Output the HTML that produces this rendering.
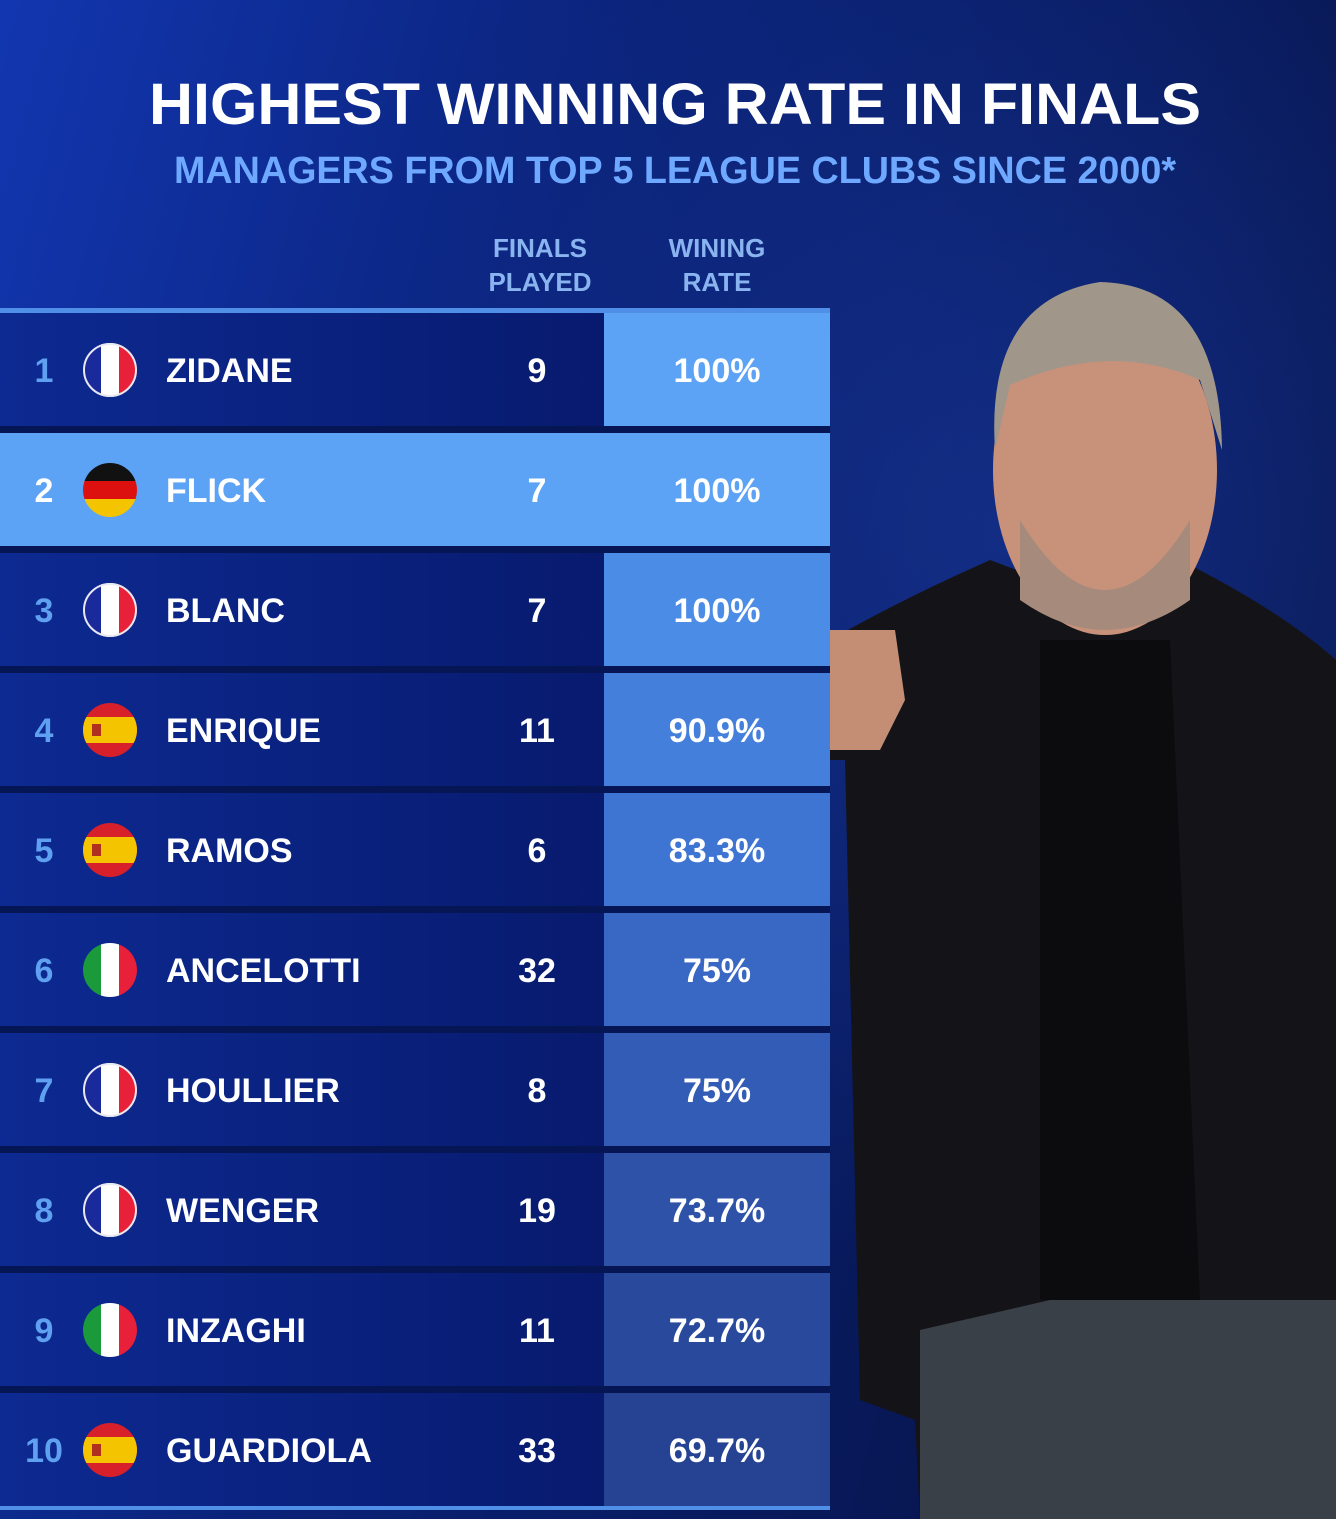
<!DOCTYPE html>
<html><head><meta charset="utf-8"><style>
html,body{margin:0;padding:0;width:1336px;height:1519px;overflow:hidden;background:#061a5e}
svg{display:block}
text{font-family:"Liberation Sans",sans-serif;font-weight:bold}
</style></head><body>
<svg width="1336" height="1519" viewBox="0 0 1336 1519" xmlns="http://www.w3.org/2000/svg">
<defs>
<linearGradient id="bg" x1="0" y1="0" x2="1" y2="0.3">
<stop offset="0" stop-color="#1236b0"/><stop offset="0.45" stop-color="#0a2278"/><stop offset="1" stop-color="#07154c"/>
</linearGradient>
<radialGradient id="glow" cx="0.75" cy="0.35" r="0.5">
<stop offset="0" stop-color="#1a3aa0" stop-opacity="0.6"/><stop offset="1" stop-color="#1a3aa0" stop-opacity="0"/>
</radialGradient>
<linearGradient id="rowl" x1="0" y1="0" x2="1" y2="0">
<stop offset="0" stop-color="#0d2a92"/><stop offset="1" stop-color="#071a6e"/>
</linearGradient>
<clipPath id="c"><circle cx="0" cy="0" r="27"/></clipPath>
</defs>
<rect width="1336" height="1519" fill="url(#bg)"/>
<rect width="1336" height="1519" fill="url(#glow)"/>

<!-- person -->
<path d="M830 640 Q900 600 990 560 L1070 590 L1180 560 Q1280 610 1336 660 L1336 1519 L920 1519 L915 1420 L860 1400 L845 760 L830 760 Z" fill="#141418"/>
<path d="M1040 640 L1170 640 L1200 1300 L1040 1300 Z" fill="#0c0c0e"/>
<path d="M920 1330 L1050 1300 L1336 1300 L1336 1519 L920 1519 Z" fill="#3a4048"/>
<path d="M830 630 L895 630 L905 700 L880 750 L830 750 Z" fill="#c48e74"/>
<ellipse cx="1105" cy="470" rx="112" ry="165" fill="#c8927a"/>
<path d="M995 450 Q985 300 1100 282 Q1220 285 1222 450 L1200 380 Q1110 340 1010 385 Z" fill="#a0968a"/>
<path d="M1020 520 Q1105 660 1190 520 L1190 600 Q1105 660 1020 600 Z" fill="#a68a7c"/>

<!-- title -->
<text x="675" y="124" text-anchor="middle" font-size="58" fill="#fff" textLength="1052" lengthAdjust="spacingAndGlyphs">HIGHEST WINNING RATE IN FINALS</text>
<text x="675" y="183" text-anchor="middle" font-size="38" fill="#6ea8ff" textLength="1002" lengthAdjust="spacingAndGlyphs">MANAGERS FROM TOP 5 LEAGUE CLUBS SINCE 2000*</text>
<g font-size="26" fill="#8ab4f0" text-anchor="middle">
<text x="540" y="257">FINALS</text><text x="540" y="291">PLAYED</text>
<text x="717" y="257">WINING</text><text x="717" y="291">RATE</text>
</g>
<rect x="0" y="313" width="830" height="1193" fill="#061553"/>
<rect x="0" y="308" width="830" height="5" fill="#4f8fe8"/>
<rect x="0" y="1505" width="830" height="5" fill="#4f8fe8"/>

<g>
<rect x="0" y="313" width="604" height="113" fill="url(#rowl)"/><rect x="604" y="313" width="226" height="113" fill="#5ca3f5"/>
<rect x="0" y="433" width="830" height="113" fill="#5ca3f5"/>
<rect x="0" y="553" width="604" height="113" fill="url(#rowl)"/><rect x="604" y="553" width="226" height="113" fill="#4a8ce6"/>
<rect x="0" y="673" width="604" height="113" fill="url(#rowl)"/><rect x="604" y="673" width="226" height="113" fill="#447fdc"/>
<rect x="0" y="793" width="604" height="113" fill="url(#rowl)"/><rect x="604" y="793" width="226" height="113" fill="#3e74d2"/>
<rect x="0" y="913" width="604" height="113" fill="url(#rowl)"/><rect x="604" y="913" width="226" height="113" fill="#3868c4"/>
<rect x="0" y="1033" width="604" height="113" fill="url(#rowl)"/><rect x="604" y="1033" width="226" height="113" fill="#325cb6"/>
<rect x="0" y="1153" width="604" height="113" fill="url(#rowl)"/><rect x="604" y="1153" width="226" height="113" fill="#2d52a8"/>
<rect x="0" y="1273" width="604" height="113" fill="url(#rowl)"/><rect x="604" y="1273" width="226" height="113" fill="#294a9c"/>
<rect x="0" y="1393" width="604" height="113" fill="url(#rowl)"/><rect x="604" y="1393" width="226" height="113" fill="#254392"/>
</g>

<!-- flags -->
<g>
<g transform="translate(110,370)" clip-path="url(#c)"><rect x="-27" y="-27" width="18" height="54" fill="#1a2a9a"/><rect x="-9" y="-27" width="18" height="54" fill="#fff"/><rect x="9" y="-27" width="18" height="54" fill="#e8203a"/></g>
<g transform="translate(110,490)" clip-path="url(#c)"><rect x="-27" y="-27" width="54" height="18" fill="#111"/><rect x="-27" y="-9" width="54" height="18" fill="#dd1010"/><rect x="-27" y="9" width="54" height="18" fill="#f5c400"/></g>
<g transform="translate(110,610)" clip-path="url(#c)"><rect x="-27" y="-27" width="18" height="54" fill="#1a2a9a"/><rect x="-9" y="-27" width="18" height="54" fill="#fff"/><rect x="9" y="-27" width="18" height="54" fill="#e8203a"/></g>
<g transform="translate(110,730)" clip-path="url(#c)"><rect x="-27" y="-27" width="54" height="54" fill="#d8202a"/><rect x="-27" y="-13" width="54" height="26" fill="#f5c400"/><rect x="-18" y="-6" width="9" height="12" fill="#b03020"/></g>
<g transform="translate(110,850)" clip-path="url(#c)"><rect x="-27" y="-27" width="54" height="54" fill="#d8202a"/><rect x="-27" y="-13" width="54" height="26" fill="#f5c400"/><rect x="-18" y="-6" width="9" height="12" fill="#b03020"/></g>
<g transform="translate(110,970)" clip-path="url(#c)"><rect x="-27" y="-27" width="18" height="54" fill="#1a9a3a"/><rect x="-9" y="-27" width="18" height="54" fill="#fff"/><rect x="9" y="-27" width="18" height="54" fill="#e8203a"/></g>
<g transform="translate(110,1090)" clip-path="url(#c)"><rect x="-27" y="-27" width="18" height="54" fill="#1a2a9a"/><rect x="-9" y="-27" width="18" height="54" fill="#fff"/><rect x="9" y="-27" width="18" height="54" fill="#e8203a"/></g>
<g transform="translate(110,1210)" clip-path="url(#c)"><rect x="-27" y="-27" width="18" height="54" fill="#1a2a9a"/><rect x="-9" y="-27" width="18" height="54" fill="#fff"/><rect x="9" y="-27" width="18" height="54" fill="#e8203a"/></g>
<g transform="translate(110,1330)" clip-path="url(#c)"><rect x="-27" y="-27" width="18" height="54" fill="#1a9a3a"/><rect x="-9" y="-27" width="18" height="54" fill="#fff"/><rect x="9" y="-27" width="18" height="54" fill="#e8203a"/></g>
<g transform="translate(110,1450)" clip-path="url(#c)"><rect x="-27" y="-27" width="54" height="54" fill="#d8202a"/><rect x="-27" y="-13" width="54" height="26" fill="#f5c400"/><rect x="-18" y="-6" width="9" height="12" fill="#b03020"/></g>
</g>
<g fill="none" stroke="#e8e8f0" stroke-width="2">
<circle cx="110" cy="370" r="26"/><circle cx="110" cy="610" r="26"/><circle cx="110" cy="1090" r="26"/><circle cx="110" cy="1210" r="26"/>
</g>

<g font-size="34" fill="#fff">
<g text-anchor="middle" fill="#5fa0f0">
<text x="44" y="382">1</text><text x="44" y="502" fill="#fff">2</text><text x="44" y="622">3</text><text x="44" y="742">4</text><text x="44" y="862">5</text><text x="44" y="982">6</text><text x="44" y="1102">7</text><text x="44" y="1222">8</text><text x="44" y="1342">9</text><text x="44" y="1462">10</text>
</g>
<text x="166" y="382">ZIDANE</text><text x="166" y="502">FLICK</text><text x="166" y="622">BLANC</text><text x="166" y="742">ENRIQUE</text><text x="166" y="862">RAMOS</text><text x="166" y="982">ANCELOTTI</text><text x="166" y="1102">HOULLIER</text><text x="166" y="1222">WENGER</text><text x="166" y="1342">INZAGHI</text><text x="166" y="1462">GUARDIOLA</text>
<g text-anchor="middle">
<text x="537" y="382">9</text><text x="537" y="502">7</text><text x="537" y="622">7</text><text x="537" y="742">11</text><text x="537" y="862">6</text><text x="537" y="982">32</text><text x="537" y="1102">8</text><text x="537" y="1222">19</text><text x="537" y="1342">11</text><text x="537" y="1462">33</text>
<text x="717" y="382">100%</text><text x="717" y="502">100%</text><text x="717" y="622">100%</text><text x="717" y="742">90.9%</text><text x="717" y="862">83.3%</text><text x="717" y="982">75%</text><text x="717" y="1102">75%</text><text x="717" y="1222">73.7%</text><text x="717" y="1342">72.7%</text><text x="717" y="1462">69.7%</text>
</g>
</g>
</svg>
</body></html>
